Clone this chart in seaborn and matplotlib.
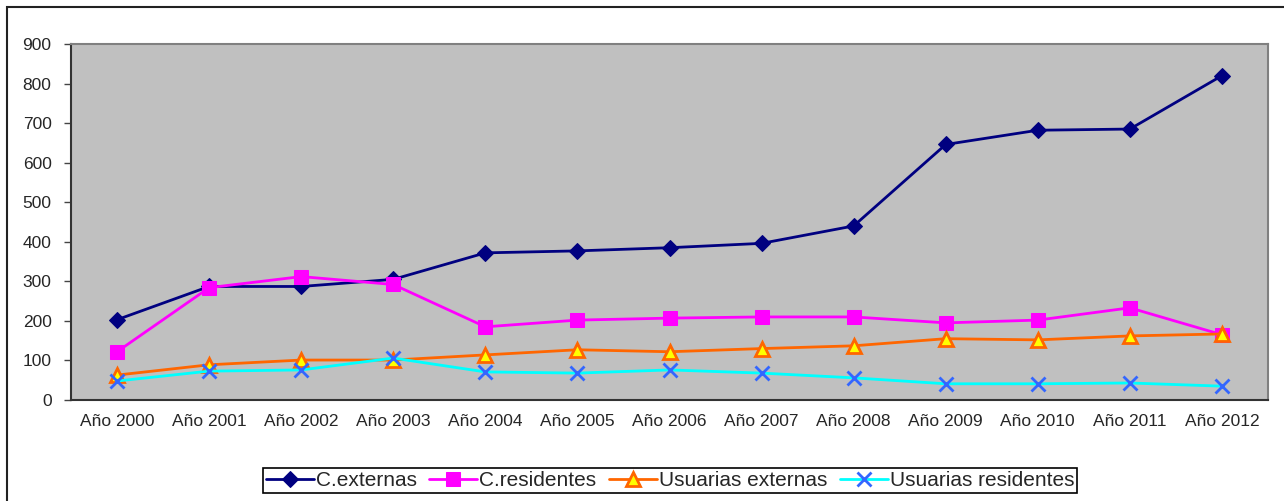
import pandas as pd
import matplotlib
matplotlib.use('Agg')
import matplotlib.pyplot as plt
from matplotlib.patches import Rectangle
from matplotlib.ticker import FixedLocator
import seaborn as sns

years = ['Año 2000', 'Año 2001', 'Año 2002', 'Año 2003', 'Año 2004', 'Año 2005', 'Año 2006',
         'Año 2007', 'Año 2008', 'Año 2009', 'Año 2010', 'Año 2011', 'Año 2012']
c_externas = [203, 287, 287, 305, 372, 377, 385, 396, 440, 646, 682, 685, 820]
c_residentes = [122, 284, 312, 292, 185, 202, 207, 210, 210, 195, 202, 233, 165]
usuarias_externas = [63, 89, 101, 101, 114, 127, 122, 130, 137, 155, 152, 162, 167]
usuarias_residentes = [48, 73, 76, 106, 71, 68, 76, 68, 56, 41, 41, 43, 35]

sns.set_style('white')
plt.rcParams['font.family'] = ['Liberation Sans', 'DejaVu Sans']

fig = plt.figure(figsize=(12.84, 5.01), dpi=100)
ax = fig.add_axes([71 / 1284, 101 / 501, (1268 - 71) / 1284, (400 - 44) / 501])
ax.set_facecolor('#C0C0C0')

styles = [
    ('C.externas', c_externas, dict(color='#000080', marker='D', markersize=8.5,
                                   markerfacecolor='#000080', markeredgecolor='#000080')),
    ('C.residentes', c_residentes, dict(color='#FF00FF', marker='s', markersize=10.5,
                                       markerfacecolor='#FF00FF', markeredgecolor='#FF00FF')),
    ('Usuarias externas', usuarias_externas, dict(color='#FF6600', marker='^', markersize=10,
                                                 markerfacecolor='#FFFF00', markeredgecolor='#FF6600',
                                                 markeredgewidth=2)),
    ('Usuarias residentes', usuarias_residentes, dict(color='#00FFFF', marker='x', markersize=10,
                                                     markeredgecolor='#3366FF', markeredgewidth=2)),
]

for name, vals, kw in styles:
    df = pd.DataFrame({'year': years, 'value': vals})
    sns.lineplot(data=df, x='year', y='value', ax=ax, label=name, linewidth=2, **kw)

ax.set_xlim(-0.5, len(years) - 0.5)
ax.set_ylim(0, 900)
ax.set_yticks(range(0, 901, 100))
ax.set_xticks(range(len(years)))
ax.set_xticklabels(years)
ax.xaxis.set_minor_locator(FixedLocator([i - 0.5 for i in range(len(years) + 1)]))
ax.tick_params(axis='x', which='major', length=0, pad=10, labelsize=12.5)
ax.tick_params(axis='x', which='minor', length=5, width=1, color='#444444', direction='out')
ax.tick_params(axis='y', which='major', length=5, width=1, color='#444444', direction='out',
               left=True, labelsize=12.5, pad=9)
ax.set_xlabel('')
ax.set_ylabel('')

for side in ['left', 'bottom']:
    ax.spines[side].set_color('#333333')
    ax.spines[side].set_linewidth(1.5)
for side in ['top', 'right']:
    ax.spines[side].set_color('#808080')
    ax.spines[side].set_linewidth(1.5)

ax.legend(loc='upper center', bbox_to_anchor=(670 / 1284, 1 - 468 / 501),
          bbox_transform=fig.transFigure, ncol=4, fontsize=15, frameon=True,
          fancybox=False, edgecolor='black', framealpha=1, handlelength=2.3,
          handletextpad=0.1, columnspacing=0.6, borderpad=0.15, borderaxespad=0)
ax.get_legend().get_frame().set_linewidth(1.2)

fig.patches.append(Rectangle((7 / 1284, -0.1), 1.2, 1.1 - 7 / 501, transform=fig.transFigure,
                             fill=False, edgecolor='#222222', linewidth=1.5))

fig.savefig('out.png', dpi=100)
